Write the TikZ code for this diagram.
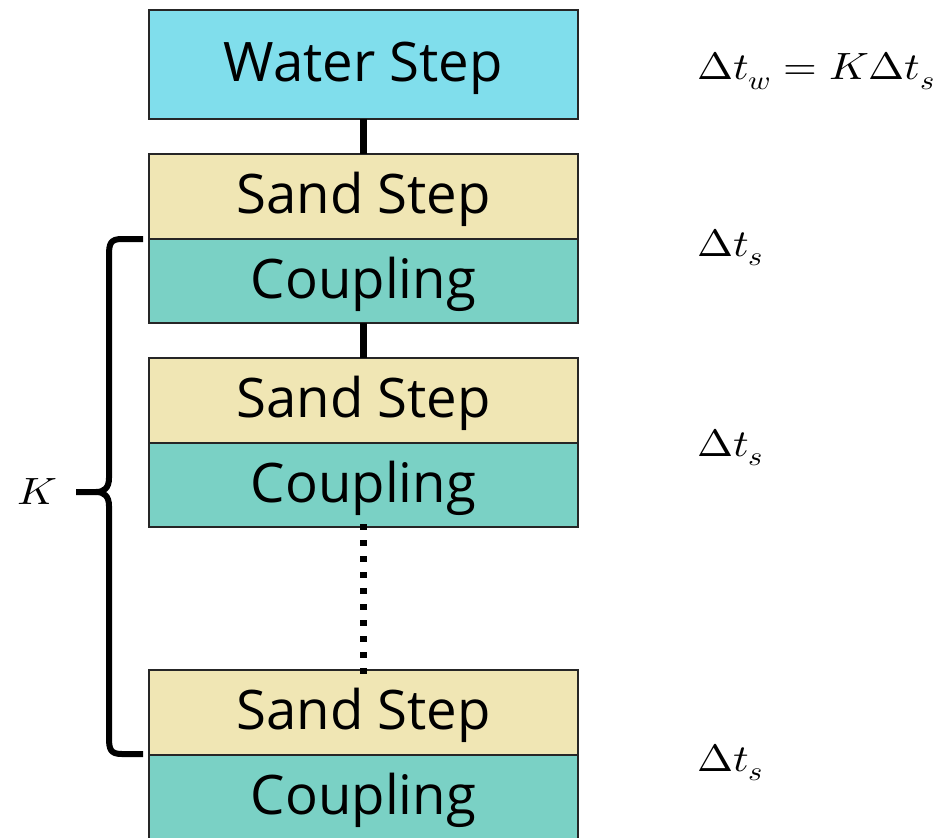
\documentclass[tikz,border=0pt]{standalone}
\usepackage{fontspec}
\usepackage{unicode-math}
\setmainfont{Open Sans}
\setmathfont{latinmodern-math.otf}
\newcommand{\widemath}[1]{\scalebox{1.14}[1]{$#1$}}
\begin{document}
\begin{tikzpicture}[x=1pt,y=-1pt,
  stage/.style={draw=black!85, line width=2pt, inner sep=0pt, outer sep=0pt,
    minimum width=429pt, font=\fontsize{54.5}{60}\selectfont,
    text height=39pt, text depth=5pt},
  waterbox/.style={stage, fill=waterc, minimum height=109pt},
  sandbox/.style={stage, fill=sandc, minimum height=85pt},
  couplebox/.style={stage, fill=couplec, minimum height=84pt},
  link/.style={line width=6.5pt},
  dotlink/.style={line width=6.5pt, dash pattern=on 5.5pt off 10.5pt},
  steplabel/.style={anchor=base west, inner sep=0pt, font=\fontsize{38}{44}\selectfont}
]
\definecolor{waterc}{RGB}{128,222,236}
\definecolor{sandc}{RGB}{240,230,180}
\definecolor{couplec}{RGB}{122,209,197}

\useasboundingbox (0,0) rectangle (941,837);
\clip (0,0) rectangle (941,837);

% stages
\node[waterbox]  (water) at (363.5,64.5)  {Water Step};
\node[sandbox]   (sand1) at (363.5,196.5) {Sand Step};
\node[couplebox] (coup1) at (363.5,281)   {Coupling};
\node[sandbox]   (sand2) at (363.5,400.5) {Sand Step};
\node[couplebox] (coup2) at (363.5,485)   {Coupling};
\node[sandbox]   (sand3) at (363.5,712.5) {Sand Step};
\node[couplebox] (coup3) at (363.5,797)   {Coupling};

% links between the stages
\draw[link] (water.south) -- (sand1.north);
\draw[link] (coup1.south) -- (sand2.north);
\draw[dotlink] ([yshift=3pt]coup2.south) -- ([yshift=-5pt]sand3.north);

% brace spanning the K repeated sand steps
\coordinate (btop) at (143,239);
\coordinate (bbot) at (143,754);
\coordinate (bmid) at (76,492);
\draw[line width=6pt, line join=round]
  (btop) -- (122,239) .. controls (110,239) and (109,244) .. (109,256)
  -- (109,478) .. controls (109,488) and (104,492) .. (96,492) -- (bmid);
\draw[line width=6pt, line join=round]
  (bbot) -- (122,754) .. controls (110,754) and (109,749) .. (109,737)
  -- (109,506) .. controls (109,496) and (104,492) .. (96,492);
\node[steplabel] (klabel) at (17,504) {\widemath{K}};

% time step labels
\node[steplabel] (tw)  at (697,80)  {\widemath{\Delta t_w = K\Delta t_s}};
\node[steplabel] (ts1) at (697,256) {\widemath{\Delta t_s}};
\node[steplabel] (ts2) at (697,456) {\widemath{\Delta t_s}};
\node[steplabel] (ts3) at (697,771) {\widemath{\Delta t_s}};
\end{tikzpicture}
\end{document}
